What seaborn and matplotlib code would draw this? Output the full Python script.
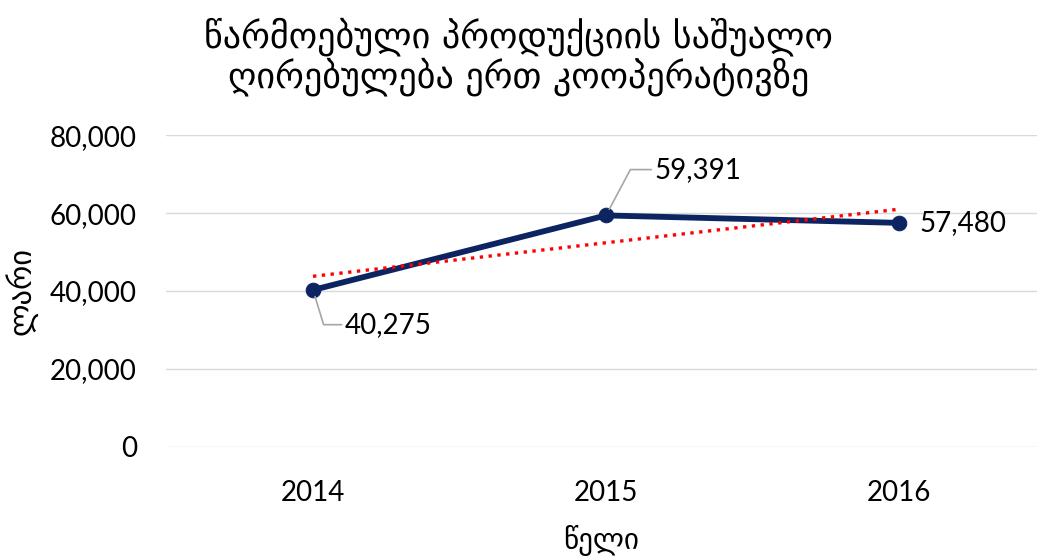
import numpy as np
import pandas as pd
import seaborn as sns
import matplotlib.pyplot as plt
from matplotlib.ticker import FuncFormatter

# data
years = ["2014", "2015", "2016"]
avg_value = [40275, 59391, 57480]
title_text = "წარმოებული პროდუქციის საშუალო\nღირებულება ერთ კოოპერატივზე"
x_label = "წელი"
y_label = "ლარი"

navy = "#0C2461"
grid_grey = "#D9D9D9"

sns.set_theme(style="whitegrid", rc={"grid.color": grid_grey, "grid.linewidth": 1.0})
plt.rcParams['font.family'] = ['Lato', 'DejaVu Sans']

df = pd.DataFrame({"pos": np.arange(len(years)), "value": avg_value})

fig = plt.figure(figsize=(10.37, 5.6), dpi=100)
ax = fig.add_axes([0.160, 0.2018, 0.840, 0.557])

sns.lineplot(data=df, x="pos", y="value", color=navy, linewidth=4.2,
             marker="o", markersize=10.5, markeredgecolor=navy, ax=ax)
# linear trend line (dotted red)
sns.regplot(data=df, x="pos", y="value", scatter=False, ci=None, truncate=True,
            line_kws=dict(color="red", linestyle=":", linewidth=2.4), ax=ax)

ax.set_ylim(0, 80000)
ax.set_yticks(np.arange(0, 80001, 20000))
ax.yaxis.set_major_formatter(FuncFormatter(lambda v, p: f"{v:,.0f}"))
ax.set_xlim(-0.502, 2.471)
ax.set_xticks(df["pos"])
ax.set_xticklabels(years)
ax.grid(axis="x", visible=False)
for s in ax.spines.values():
    s.set_visible(False)
ax.tick_params(axis="y", length=0, pad=21, labelsize=20, labelcolor="black")
ax.tick_params(axis="x", length=0, pad=24, labelsize=20, labelcolor="black")

ax.set_xlabel(x_label, fontsize=21, labelpad=13, color="black", family="DejaVu Sans")
ax.set_ylabel(y_label, fontsize=22, labelpad=9, color="black", family="DejaVu Sans")

# data labels
label_offsets = [(23, -25), (35, 33), (15, 0)]
for i, v in enumerate(avg_value):
    dx, dy = label_offsets[i]
    arrow = None
    if i == 0:
        arrow = dict(arrowstyle="-", color="#A6A6A6", lw=1.2, relpos=(0, 0.5),
                     shrinkA=0, shrinkB=5, connectionstyle="angle,angleA=0,angleB=-73,rad=0")
    elif i == 1:
        arrow = dict(arrowstyle="-", color="#A6A6A6", lw=1.2, relpos=(0, 0.5),
                     shrinkA=0, shrinkB=5, connectionstyle="angle,angleA=0,angleB=62,rad=0")
    ax.annotate(f"{v:,}", xy=(i, v), xytext=(dx, dy), textcoords="offset points",
                ha="left", va="center", fontsize=20, color="black", arrowprops=arrow)

fig.text(0.5, 0.899, title_text, ha="center", va="center", fontsize=26,
         linespacing=1.05, color="black", family="DejaVu Sans")

fig.savefig("out.png", dpi=100)
